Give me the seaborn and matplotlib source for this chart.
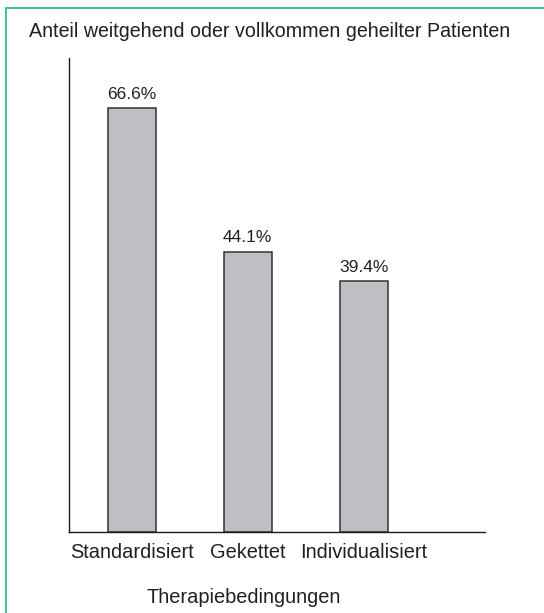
import matplotlib
matplotlib.use("Agg")
import matplotlib.pyplot as plt
from matplotlib.lines import Line2D
import seaborn as sns
import pandas as pd

# Data
categories = ["Standardisiert", "Gekettet", "Individualisiert"]
values = [66.6, 44.1, 39.4]
value_labels = ["66.6%", "44.1%", "39.4%"]
title = "Anteil weitgehend oder vollkommen geheilter Patienten"
xlabel = "Therapiebedingungen"

sns.set_theme(style="white")
plt.rcParams["font.family"] = ["Liberation Sans", "DejaVu Sans"]

text_color = "#231F20"
bar_color = "#BEBFC3"
frame_color = "#2BBF94"

df = pd.DataFrame({"cond": categories, "pct": values})

fig = plt.figure(figsize=(5.44, 6.13), dpi=100)
ax = fig.add_axes([0.127, 0.132, 0.765, 0.773])

sns.barplot(data=df, x="cond", y="pct", color=bar_color, saturation=1,
            width=0.414, edgecolor="#333333", linewidth=1.1, ax=ax)

ax.set_xlim(-0.543, 3.05)
ax.set_ylim(0, 74.5)

# Percent labels above each bar
for cont in ax.containers:
    ax.bar_label(cont, labels=value_labels, padding=5, fontsize=12.5,
                 color=text_color)

# Axes styling: only left and bottom lines, no ticks
sns.despine(ax=ax)
for side in ("left", "bottom"):
    ax.spines[side].set_color("#1a1a1a")
    ax.spines[side].set_linewidth(1.0)
ax.set_yticks([])
ax.tick_params(axis="x", length=0, pad=8, labelsize=14.4, labelcolor=text_color)
ax.set_ylabel("")
ax.set_xlabel(xlabel, fontsize=14.4, color=text_color)
ax.xaxis.set_label_coords(0.42, -0.118)

fig.text(269.5 / 544, 1 - 31.5 / 613, title, ha="center", va="center",
         fontsize=14.1, color=text_color)

# Green frame along top and left edges
fig.add_artist(Line2D([6 / 544, 1.0], [1 - 8 / 613, 1 - 8 / 613],
                      transform=fig.transFigure, color=frame_color, lw=1.3))
fig.add_artist(Line2D([6 / 544, 6 / 544], [0.0, 1 - 8 / 613],
                      transform=fig.transFigure, color=frame_color, lw=1.3))

fig.savefig("out.png", dpi=100)
